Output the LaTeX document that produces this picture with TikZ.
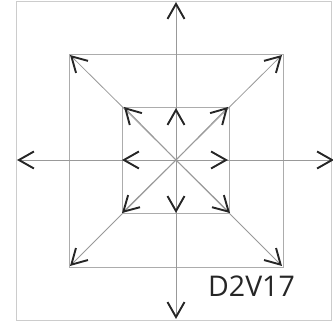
\documentclass[tikz,border=0pt]{standalone}
\usepackage{fontspec}
\setsansfont{Open Sans}
\usetikzlibrary{arrows.meta}

\begin{document}
\begin{tikzpicture}[
    x=1pt, y=-1pt,
    font=\sffamily,
    axis/.style={draw=gray!80, line width=0.8pt},
    box/.style={draw=gray!65, line width=0.8pt},
    frame/.style={draw=gray!40, line width=0.9pt},
    ray/.style={axis, -{Straight Barb[length=15pt, width=17pt, line width=1.9pt, color=black!85]}},
    label/.style={anchor=base west, inner sep=0pt, text=black!85, font=\sffamily\fontsize{28.5}{30}\selectfont}
]
    \useasboundingbox (0,0) rectangle (333,328);
    \draw[frame] (16,1) rectangle (331,320);
    % centre and squares
    \coordinate (c) at (176,160);
    \draw[box] (69,54) rectangle (283,267);
    \draw[box] (122,107) rectangle (229,213);
    % outer ends
    \coordinate (top) at (176,2);
    \coordinate (bottom) at (176,319);
    \coordinate (left) at (17,160);
    \coordinate (right) at (334,160);
    \coordinate (ne) at (282,55);
    \coordinate (nw) at (70,55);
    \coordinate (se) at (282,266);
    \coordinate (sw) at (70,266);
    % inner ends
    \coordinate (itop) at (176,108);
    \coordinate (ibottom) at (176,213);
    \coordinate (ileft) at (122,160);
    \coordinate (iright) at (228,160);
    \coordinate (ine) at (228,107);
    \coordinate (inw) at (124,107);
    \coordinate (ise) at (230,213);
    \coordinate (isw) at (122,213);
    \foreach \p in {top, bottom, left, right, ne, nw, se, sw, itop, ibottom, ileft, iright, ine, inw, ise, isw}
        \draw[ray] (c) -- (\p);
    \node[label] (name) at (208,297) {D2V17};
\end{tikzpicture}
\end{document}
